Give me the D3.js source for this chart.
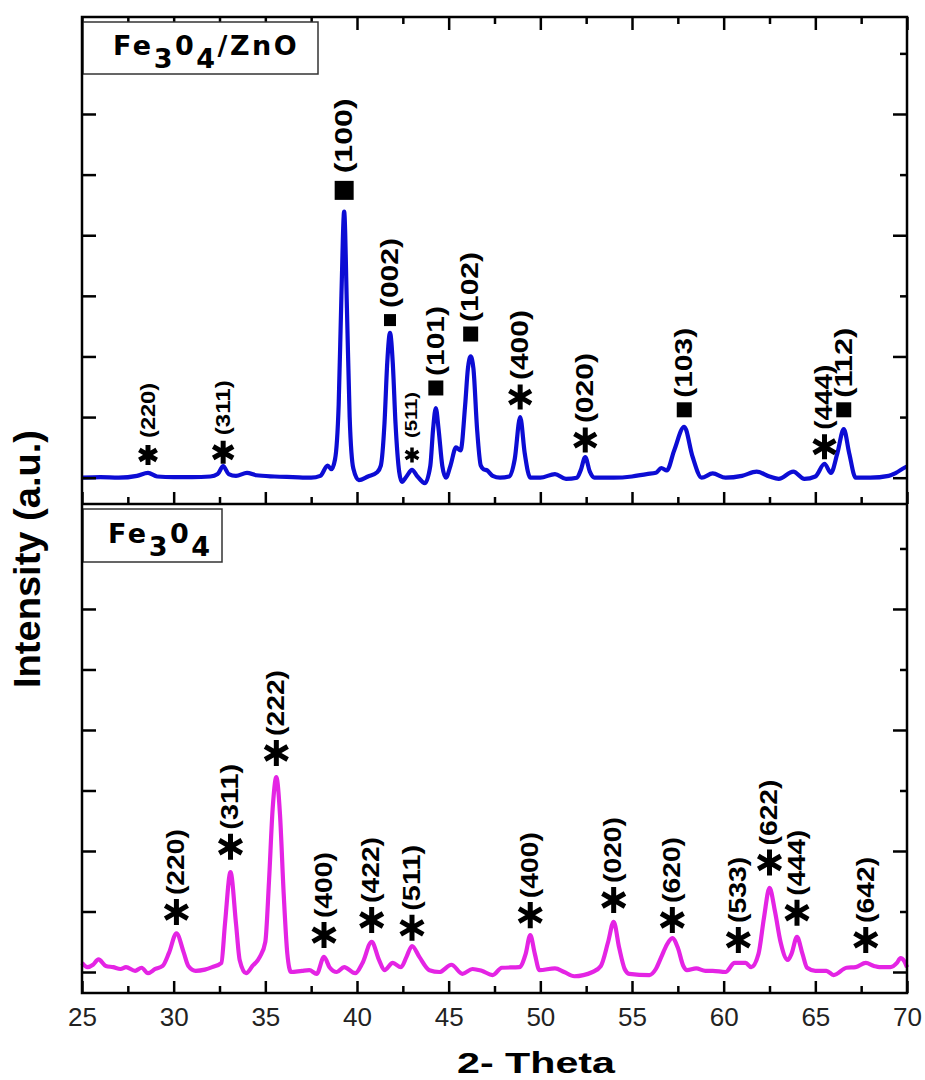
<!DOCTYPE html>
<html>
<head>
<meta charset="utf-8">
<script src="https://cdnjs.cloudflare.com/ajax/libs/d3/7.8.5/d3.min.js"></script>
<style>
  body { margin: 0; background: #fff; }
  text { font-family: "Liberation Sans", Arial, sans-serif; }
</style>
</head>
<body>
<svg id="chart" width="925" height="1080"></svg>
<script>
// x axis
const thetaTicks = [25, 30, 35, 40, 45, 50, 55, 60, 65, 70];
const thetaMinorTicks = [27.5, 32.5, 37.5, 42.5, 47.5, 52.5, 57.5, 62.5, 67.5];
const intensityTicks = [0, 1, 2, 3, 4, 5, 6, 7];

// Fe3O4/ZnO pattern, [2theta, intensity a.u.]
const compositeSeries = [
  [25.0, 0.0], [26.0, 0.01], [27.0, 0.0], [28.0, 0.03], [28.6, 0.08], [29.1, 0.02],
  [30.0, 0.01], [31.0, 0.01], [32.0, 0.02], [32.4, 0.06], [32.7, 0.19], [33.0, 0.06],
  [33.4, 0.03], [34.0, 0.08], [34.5, 0.04], [35.5, 0.02], [36.5, 0.01], [37.5, 0.0],
  [38.0, 0.03], [38.4, 0.2], [38.6, 0.14], [38.8, 0.3], [39.0, 1.2], [39.15, 3.0],
  [39.3, 4.39], [39.45, 2.8], [39.6, 1.0], [39.8, 0.15], [40.1, -0.04], [40.6, 0.02],
  [41.1, 0.09], [41.3, 0.2], [41.5, 0.9], [41.65, 1.9], [41.8, 2.39], [41.95, 1.9],
  [42.1, 0.9], [42.3, 0.1], [42.45, -0.07], [42.7, 0.02], [43.0, 0.13], [43.3, 0.02],
  [43.7, -0.09], [44.0, 0.2], [44.15, 0.8], [44.3, 1.15], [44.45, 0.8], [44.65, 0.2],
  [44.85, 0.0], [45.1, 0.2], [45.4, 0.5], [45.65, 0.45], [45.9, 1.2], [46.05, 1.8],
  [46.2, 2.0], [46.35, 1.8], [46.55, 0.8], [46.75, 0.2], [46.9, 0.14], [47.1, 0.12],
  [47.4, 0.03], [47.8, 0.0], [48.3, 0.02], [48.6, 0.3], [48.9, 1.0], [49.15, 0.4],
  [49.45, 0.0], [50.0, 0.0], [50.8, 0.06], [51.4, -0.02], [52.0, 0.0], [52.2, 0.12],
  [52.45, 0.34], [52.7, 0.1], [52.95, 0.0], [54.0, 0.0], [55.0, 0.02], [55.8, 0.06],
  [56.3, 0.08], [56.6, 0.16], [56.9, 0.12], [57.3, 0.45], [57.85, 0.84], [58.3, 0.35],
  [58.8, 0.0], [59.4, 0.07], [60.1, 0.0], [61.0, 0.03], [61.8, 0.1], [62.5, 0.02],
  [63.0, -0.02], [63.8, 0.1], [64.4, -0.02], [65.0, 0.02], [65.5, 0.23], [65.85, 0.08],
  [66.2, 0.4], [66.55, 0.8], [66.85, 0.4], [67.2, 0.0], [68.0, 0.0], [69.0, 0.03],
  [69.4, 0.08], [69.9, 0.17], [70.0, 0.18]
];

// Fe3O4 pattern
const magnetiteSeries = [
  [25.0, 0.15], [25.3, 0.08], [25.6, 0.12], [25.9, 0.21], [26.3, 0.1], [26.7, 0.08],
  [27.1, 0.05], [27.4, 0.08], [27.9, 0.02], [28.25, 0.07], [28.6, -0.02], [29.0, 0.05],
  [29.4, 0.1], [29.75, 0.32], [30.15, 0.64], [30.55, 0.32], [30.8, 0.1], [31.2, 0.02],
  [31.7, 0.04], [32.1, 0.08], [32.6, 0.15], [32.8, 0.8], [33.1, 1.65], [33.4, 0.8],
  [33.6, 0.2], [33.95, -0.02], [34.3, 0.1], [34.7, 0.25], [35.0, 0.5], [35.2, 1.5],
  [35.4, 2.7], [35.6, 3.22], [35.8, 2.6], [36.0, 1.3], [36.2, 0.3], [36.4, 0.0],
  [37.0, 0.02], [37.4, 0.03], [37.8, -0.03], [38.2, 0.25], [38.5, 0.08], [38.9, 0.0],
  [39.3, 0.08], [39.9, -0.02], [40.3, 0.15], [40.8, 0.5], [41.2, 0.2], [41.5, 0.03],
  [41.95, 0.15], [42.4, 0.08], [42.7, 0.25], [43.0, 0.43], [43.4, 0.25], [43.95, 0.03],
  [44.5, 0.0], [45.15, 0.12], [45.75, -0.03], [46.3, 0.05], [46.8, 0.02], [47.4, -0.05],
  [47.9, 0.07], [48.85, 0.08], [49.2, 0.3], [49.45, 0.61], [49.7, 0.3], [49.95, 0.03],
  [50.8, 0.06], [51.3, 0.0], [51.85, -0.07], [52.85, 0.0], [53.3, 0.1], [53.7, 0.5],
  [54.0, 0.83], [54.3, 0.4], [54.6, 0.05], [54.85, -0.03], [55.95, -0.05], [56.3, 0.05],
  [56.6, 0.25], [56.9, 0.45], [57.2, 0.56], [57.5, 0.4], [57.8, 0.1], [58.0, 0.03],
  [58.5, 0.06], [59.0, 0.02], [59.4, 0.02], [60.1, 0.0], [60.6, 0.15], [61.2, 0.15],
  [61.5, 0.08], [61.9, 0.3], [62.2, 0.9], [62.5, 1.39], [62.8, 1.0], [63.1, 0.5],
  [63.5, 0.2], [63.7, 0.3], [64.0, 0.58], [64.3, 0.3], [64.55, 0.07], [65.0, 0.02],
  [65.6, 0.02], [66.0, -0.05], [66.7, 0.07], [67.2, 0.08], [67.75, 0.15], [68.2, 0.1],
  [68.5, 0.08], [69.1, 0.08], [69.45, 0.15], [69.65, 0.23], [69.85, 0.18], [70.0, 0.08]
];

// peak labels: [hkl, 2theta, phase, marker level]
const compositePeaks = [
  ["(220)", 28.6, "Fe3O4", 0.375], ["(311)", 32.7, "Fe3O4", 0.42],
  ["(100)", 39.3, "ZnO", 4.74], ["(002)", 41.8, "ZnO", 2.6],
  ["(511)", 43.0, "Fe3O4", 0.375], ["(101)", 44.3, "ZnO", 1.48],
  ["(102)", 46.2, "ZnO", 2.37], ["(400)", 48.9, "Fe3O4", 1.33],
  ["(020)", 52.45, "Fe3O4", 0.62], ["(103)", 57.85, "ZnO", 1.12],
  ["(444)", 65.5, "Fe3O4", 0.51], ["(112)", 66.55, "ZnO", 1.12]
];
const magnetitePeaks = [
  ["(220)", 30.15, "Fe3O4", 0.99], ["(311)", 33.1, "Fe3O4", 2.07],
  ["(222)", 35.6, "Fe3O4", 3.62], ["(400)", 38.2, "Fe3O4", 0.61],
  ["(422)", 40.8, "Fe3O4", 0.86], ["(511)", 43.0, "Fe3O4", 0.73],
  ["(400)", 49.45, "Fe3O4", 0.94], ["(020)", 54.0, "Fe3O4", 1.19],
  ["(620)", 57.2, "Fe3O4", 0.86], ["(533)", 60.8, "Fe3O4", 0.53],
  ["(622)", 62.5, "Fe3O4", 1.81], ["(444)", 64.0, "Fe3O4", 0.98],
  ["(642)", 67.75, "Fe3O4", 0.53]
];

const svg = d3.select("#chart");
const left = 82, right = 907;

const x = d3.scaleLinear().domain([25, 70]).range([left, right]);

const panels = [
  { name: ["Fe", "3", "0", "4", "/ZnO"], series: compositeSeries, peaks: compositePeaks,
    color: "#0c0cd4", top: 17, bottom: 504, domain: [-0.434, 7.6], box: [83, 22, 235, 52], textY: 55 },
  { name: ["Fe", "3", "0", "4"], series: magnetiteSeries, peaks: magnetitePeaks,
    color: "#e424e4", top: 504, bottom: 993, domain: [-0.347, 7.735], box: [83, 509, 139, 53], textY: 543 }
];

const line = d3.line().curve(d3.curveMonotoneX);

panels.forEach((p, i) => {
  const y = d3.scaleLinear().domain(p.domain).range([p.bottom, p.top]);
  const g = svg.append("g");

  // curve
  g.append("path")
    .datum(p.series)
    .attr("fill", "none")
    .attr("stroke", p.color)
    .attr("stroke-width", 4.2)
    .attr("stroke-linejoin", "round")
    .attr("d", line.x((d) => x(d[0])).y((d) => y(d[1])));

  // left ticks
  g.append("g")
    .attr("transform", `translate(${left},0)`)
    .call(d3.axisRight(y).tickValues(intensityTicks).tickSize(14).tickFormat(""));
  // right ticks, long on even
  g.append("g")
    .attr("transform", `translate(${right},0)`)
    .call(d3.axisLeft(y).tickValues(intensityTicks.filter((v) => v % 2 === 0)).tickSize(14).tickFormat(""));
  g.append("g")
    .attr("transform", `translate(${right},0)`)
    .call(d3.axisLeft(y).tickValues(intensityTicks.filter((v) => v % 2 === 1)).tickSize(7).tickFormat(""));

  // top ticks only on upper panel
  if (i === 0) {
    g.append("g").attr("transform", `translate(0,${p.top})`)
      .call(d3.axisBottom(x).tickValues(thetaTicks).tickSize(13).tickFormat(""));
    g.append("g").attr("transform", `translate(0,${p.top})`)
      .call(d3.axisBottom(x).tickValues(thetaMinorTicks).tickSize(7).tickFormat(""));
  }
  // bottom ticks pointing up
  g.append("g").attr("transform", `translate(0,${p.bottom})`)
    .call(d3.axisTop(x).tickValues(thetaTicks).tickSize(12).tickFormat(""));
  g.append("g").attr("transform", `translate(0,${p.bottom})`)
    .call(d3.axisTop(x).tickValues(thetaMinorTicks).tickSize(7).tickFormat(""));

  // peak markers + labels
  p.peaks.forEach((pk) => {
    const [hkl, theta, phase, level] = pk;
    const px = x(theta), py = y(level);
    let mark = 25, fs = 23, len = i === 0 ? 70 : 66;
    if (i === 0 && (hkl === "(220)" || hkl === "(311)")) { mark = hkl === "(220)" ? 20 : 23; fs = 21; len = 55; }
    if (i === 0 && hkl === "(511)") { mark = 15; fs = 16; len = 46; }
    if (i === 0 && hkl === "(100)") { len = 75; }
    if (i === 0 && hkl === "(444)") { len = 65; }
    if (i === 1) mark = 26;

    if (phase === "ZnO") {
      const side = hkl === "(100)" ? 19 : hkl === "(002)" ? 12 : 15;
      g.append("path")
        .attr("d", d3.symbol(d3.symbolSquare, side * side)())
        .attr("transform", `translate(${px},${py})`)
        .attr("fill", "#000");
    } else {
      const r = mark / 2 / 0.59436;
      g.append("path")
        .attr("d", d3.symbol(d3.symbolAsterisk, r * r)())
        .attr("transform", `translate(${px},${py})`)
        .attr("fill", "none")
        .attr("stroke", "#000")
        .attr("stroke-width", mark > 18 ? 5 : 3.5);
    }
    const gap = phase === "ZnO" ? (hkl === "(100)" ? 17 : 12) : 17;
    g.append("text")
      .attr("transform", `translate(${px},${py - gap}) rotate(-90)`)
      .attr("dy", "0.34em")
      .attr("font-size", fs)
      .attr("font-weight", "bold")
      .attr("textLength", len)
      .attr("lengthAdjust", "spacingAndGlyphs")
      .text(hkl);
  });

  // sample name box
  const [bx, by, bw, bh] = p.box;
  g.append("rect")
    .attr("x", bx).attr("y", by).attr("width", bw).attr("height", bh)
    .attr("fill", "#fff").attr("stroke", "#333").attr("stroke-width", 1.5);
  const t = g.append("text")
    .attr("x", i === 0 ? 113 : 108)
    .attr("y", p.textY)
    .attr("font-size", 27)
    .attr("font-weight", "bold")
    .attr("letter-spacing", 2.5)
    .style("font-family", "'DejaVu Sans', Verdana, sans-serif");
  p.name.forEach((s, k) => {
    const sub = k === 1 || k === 3;
    const prevSub = k === 2 || k === 4;
    t.append("tspan")
      .attr("dy", sub ? 13 : prevSub ? -13 : 0)
      .text(s);
  });
});

// frame and divider
svg.append("rect")
  .attr("x", left).attr("y", 17).attr("width", right - left).attr("height", 993 - 17)
  .attr("fill", "none").attr("stroke", "#000").attr("stroke-width", 2.5);
svg.append("line")
  .attr("x1", left).attr("x2", right).attr("y1", 504).attr("y2", 504)
  .attr("stroke", "#000").attr("stroke-width", 2.5);

svg.selectAll(".tick line").attr("stroke", "#000").attr("stroke-width", 2.5);
svg.selectAll(".domain").remove();

// x tick labels
const xLabels = svg.append("g")
  .attr("transform", "translate(0,993)")
  .call(d3.axisBottom(x).tickValues(thetaTicks).tickSize(0).tickPadding(15).tickFormat(d3.format("d")));
xLabels.select(".domain").remove();
xLabels.selectAll("text")
  .attr("font-size", 26)
  .attr("fill", "#222")
  .style("font-family", "'Liberation Sans', Arial, sans-serif");

// axis titles
svg.append("text")
  .attr("x", 457).attr("y", 1073)
  .attr("font-size", 29).attr("font-weight", "bold")
  .attr("textLength", 158).attr("lengthAdjust", "spacingAndGlyphs")
  .text("2- Theta");

svg.append("text")
  .attr("transform", "translate(40,559) rotate(-90)")
  .attr("text-anchor", "middle")
  .attr("font-size", 37).attr("font-weight", "bold")
  .attr("textLength", 258).attr("lengthAdjust", "spacingAndGlyphs")
  .text("Intensity (a.u.)");
</script>
</body>
</html>
